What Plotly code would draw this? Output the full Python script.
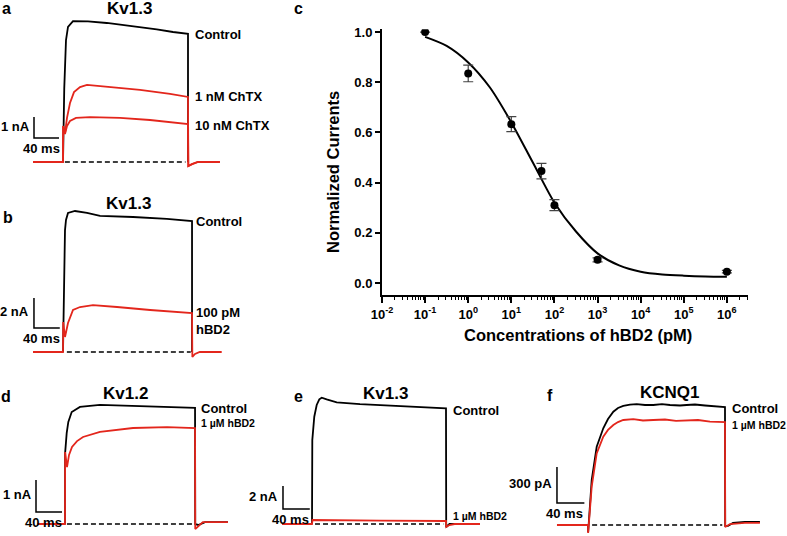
import plotly.graph_objects as go

W, H = 787, 536
FONT = "Liberation Sans, Arial, Helvetica, sans-serif"
RED = "#e3261c"
BLACK = "#000000"

# ---------------- Panel a : Kv1.3 + ChTX  (time ms, current nA) ----------------
a_ctrl_t = [0, 2, 4.8, 8, 16, 40, 70, 100, 123, 150, 176, 200, 200]
a_ctrl_i = [0, 3.5, 5.81, 6.43, 6.71, 6.70, 6.62, 6.52, 6.43, 6.32, 6.19, 6.10, 0]
a_chtx1_t = [-48, 0, 0.3, 3.2, 6.4, 11.2, 17.6, 27.2, 38.4, 75.2, 123.2, 171.2, 200, 200.5, 206.4, 216, 251]
a_chtx1_i = [0, 0, 1.71, 1.38, 2.10, 2.81, 3.33, 3.57, 3.67, 3.57, 3.43, 3.24, 3.10, -0.19, -0.10, 0, 0]
a_chtx10_t = [-48, 0, 0.3, 3.2, 6.4, 11.2, 20.8, 43.2, 91.2, 139.2, 200, 200.5, 206.4, 216, 251]
a_chtx10_i = [0, 0, 1.71, 1.33, 1.71, 1.95, 2.10, 2.14, 2.10, 2.00, 1.81, -0.19, -0.10, 0, 0]

# ---------------- Panel b : Kv1.3 + 100 pM hBD2 (ms, nA) ----------------
b_ctrl_t = [0, 1.5, 3.1, 4.65, 7.75, 18.6, 37.2, 57.4, 108.5, 161, 200, 200]
b_ctrl_i = [0, 5.0, 8.13, 8.8, 9.27, 9.4, 9.27, 9.07, 9.0, 8.87, 8.73, 0]
b_hbd_t = [-46.5, 0, 0.3, 3.1, 7.75, 15.5, 26.4, 46.5, 83.7, 135, 200, 200.5, 204.6, 212, 246]
b_hbd_i = [0, 0, 2.0, 1.0, 1.93, 2.8, 3.0, 3.13, 3.0, 2.8, 2.6, -0.33, -0.13, 0, 0]

# ---------------- Panel c : dose-response ----------------
c_conc_pM = [0.1, 1, 10, 50, 100, 1000, 1e6]
c_norm = [1.0, 0.835, 0.633, 0.446, 0.31, 0.092, 0.045]
c_sem = [0, 0.033, 0.03, 0.031, 0.022, 0.008, 0.005]
c_fit_conc = [0.1, 0.316, 1, 3.16, 10, 31.6, 100, 316, 1000, 3162, 1e4, 31623, 1e5, 316228, 1e6]
c_fit_norm = [0.981, 0.945, 0.879, 0.78, 0.64, 0.48, 0.32, 0.205, 0.118, 0.07, 0.045, 0.034, 0.029, 0.026, 0.025]
c_tick_vals = [0.01, 0.1, 1, 10, 100, 1000, 1e4, 1e5, 1e6]
c_tick_text = ["-2", "-1", "0", "1", "2", "3", "4", "5", "6"]
c_ytick_vals = [0.0, 0.2, 0.4, 0.6, 0.8, 1.0]

# ---------------- Panel d : Kv1.2 (ms, nA) ----------------
d_ctrl_t = [0, 0.2, 2.6, 5.1, 10.3, 23, 53.8, 104.6, 157, 200, 200.3, 205, 215.4, 250.7]
d_ctrl_i = [0, 2.22, 2.84, 3.19, 3.5, 3.66, 3.72, 3.69, 3.66, 3.63, 0, -0.03, 0.06, 0.06]
d_hbd_t = [-43, 0, 0.2, 3.1, 6.2, 10.8, 18.5, 27.7, 53.8, 104.6, 157, 200, 200.3, 205, 212, 250.7]
d_hbd_i = [0, 0, 2.25, 1.78, 2.16, 2.41, 2.59, 2.72, 2.88, 3.0, 3.03, 3.0, -0.16, -0.06, 0.06, 0.06]

# ---------------- Panel e : Kv1.3 + 1 uM hBD2 (ms, nA) ----------------
e_ctrl_t = [0, 0.45, 3.4, 7.0, 10.9, 14.5, 21.9, 36.9, 71.6, 121.3, 171.2, 200, 200.3, 205.2, 250.7]
e_ctrl_i = [0, 7.3, 9.33, 10.35, 10.84, 10.98, 10.84, 10.58, 10.43, 10.29, 10.15, 10.06, -0.26, 0, 0]
e_hbd_t = [-44.8, 0, 0.75, 4.5, 101.5, 200, 200.3, 205, 213, 250.7]
e_hbd_i = [0, 0, 0.35, 0.35, 0.3, 0.26, -0.26, -0.09, 0, 0]

# ---------------- Panel f : KCNQ1 (ms, pA) ----------------
f_ctrl_t = [0, 0.2, 5.4, 12.7, 22.3, 29.2, 37, 43.8, 51.5, 61.3, 71.1, 83.2, 95.3, 108, 119.7, 134.3,
            144, 156.2, 170.8, 185.4, 197.5, 200, 200.3, 204.4, 211.7, 229, 251]
f_ctrl_i = [0, -60, 375, 652, 806, 883, 944, 975, 992, 1004, 1008, 1000, 1000, 1008, 1000, 996,
            1000, 1004, 996, 992, 986, 983, -8, -8, 17, 25, 25]
f_hbd_t = [-45.3, 0, 0.2, 5.4, 12.7, 22.3, 29.2, 37, 43.8, 51.5, 66.1, 80.3, 95.3, 112.4, 128.5,
           144, 160.6, 178.1, 197.5, 200, 200.3, 207.3, 229, 251]
f_hbd_i = [0, 0, -67, 319, 597, 736, 792, 833, 858, 875, 883, 871, 875, 879, 867,
           869, 875, 862, 861, 858, -17, 8, 17, 17]

# scale bars: (corner time, corner current, time size, current size, current label)
bars = {
    "a": (-46.4, 1.14, 40, 1, "1 nA"),
    "b": (-45.0, 1.6, 40, 2, "2 nA"),
    "d": (-44.6, 0.375, 40, 1, "1 nA"),
    "e": (-43.3, 1.3, 40, 2, "2 nA"),
    "f": (-45.3, 183, 40, 300, "300 pA"),
}

fig = go.Figure()


def axes_for(box, t0px, ms_per_px, base_py, px_per_unit):
    x0, x1, y0, y1 = box
    xa = dict(visible=False, fixedrange=True, domain=[x0 / W, x1 / W],
              range=[(x0 - t0px) * ms_per_px, (x1 - t0px) * ms_per_px])
    ya = dict(visible=False, fixedrange=True, domain=[1 - y1 / H, 1 - y0 / H],
              range=[(base_py - y1) / px_per_unit, (base_py - y0) / px_per_unit])
    return xa, ya


panels = {
    "a": ("x", "y", axes_for((0, 262, 0, 172), 63, 1.6, 162, 21)),
    "b": ("x2", "y2", axes_for((0, 262, 178, 362), 63, 1.55, 352, 15)),
    "d": ("x4", "y4", axes_for((0, 262, 378, 536), 65, 1.538, 524, 32)),
    "e": ("x5", "y5", axes_for((262, 520, 378, 536), 312, 1.4925, 524, 11.5)),
    "f": ("x6", "y6", axes_for((520, 787, 378, 536), 588, 1.46, 525, 1 / 8.333)),
}


def line(p, t, i, color, width=1.8, dash=None):
    xr, yr, _ = panels[p]
    fig.add_trace(go.Scatter(x=t, y=i, mode="lines", xaxis=xr, yaxis=yr, hoverinfo="skip",
                             line=dict(color=color, width=width, dash=dash)))


def zero_line(p, t_start, t_end):
    line(p, [t_start, t_end], [0, 0], BLACK, 1.6, "5px,3px")


def scale_bar(p):
    t, i, dt, di, lab = bars[p]
    line(p, [t, t, t + dt], [i + di, i, i], BLACK, 1.5)


# dashed zero lines
zero_line("a", 3, 196)
zero_line("b", 6, 198)
zero_line("d", 3, 198)
zero_line("e", 4.5, 196)
zero_line("f", 6, 196)

# traces
line("a", a_ctrl_t, a_ctrl_i, BLACK)
line("a", a_chtx1_t, a_chtx1_i, RED)
line("a", a_chtx10_t, a_chtx10_i, RED)
line("b", b_ctrl_t, b_ctrl_i, BLACK)
line("b", b_hbd_t, b_hbd_i, RED)
line("d", d_ctrl_t, d_ctrl_i, BLACK)
line("d", d_hbd_t, d_hbd_i, RED)
line("e", e_ctrl_t, e_ctrl_i, BLACK)
line("e", e_hbd_t, e_hbd_i, RED)
line("f", f_ctrl_t, f_ctrl_i, BLACK)
line("f", f_hbd_t, f_hbd_i, RED)

for p in bars:
    scale_bar(p)

# panel c
fig.add_trace(go.Scatter(x=c_fit_conc, y=c_fit_norm, mode="lines", xaxis="x3", yaxis="y3",
                         line=dict(color=BLACK, width=2, shape="spline", smoothing=0.8), hoverinfo="skip"))
fig.add_trace(go.Scatter(x=c_conc_pM, y=c_norm, mode="markers", xaxis="x3", yaxis="y3",
                         marker=dict(color=BLACK, size=8),
                         error_y=dict(type="data", array=c_sem, visible=True, color="#444444",
                                      thickness=1.2, width=5)))

layout_axes = {}
for p, (xr, yr, (xa, ya)) in panels.items():
    xkey = "xaxis" + xr[1:]
    ykey = "yaxis" + yr[1:]
    xa["anchor"] = yr
    ya["anchor"] = xr
    layout_axes[xkey] = xa
    layout_axes[ykey] = ya

BOLD13 = dict(size=13, family=FONT, color=BLACK, weight="bold")
minor_vals = [k * 10 ** n for n in range(-2, 7) for k in range(2, 10) if k * 10 ** n < 10 ** 6.49]
layout_axes["xaxis3"] = dict(
    type="log", domain=[382 / W, 748 / W], range=[-2, 6.49], anchor="y3", fixedrange=True,
    showline=True, linecolor=BLACK, linewidth=2, ticks="outside", ticklen=6, tickwidth=1.5,
    tickcolor=BLACK, tickvals=c_tick_vals,
    ticktext=["10<sup>%s</sup>" % s for s in c_tick_text],
    tickfont=BOLD13, showgrid=False, zeroline=False,
    minor=dict(tickmode="array", tickvals=minor_vals, ticks="outside", ticklen=3, tickwidth=1,
               tickcolor=BLACK, showgrid=False),
)
layout_axes["yaxis3"] = dict(
    domain=[1 - 295 / H, 1 - 29.3 / H], range=[-0.048, 1.011], anchor="x3", fixedrange=True,
    showline=True, linecolor=BLACK, linewidth=2, ticks="outside", ticklen=5, tickwidth=1.5,
    tickcolor=BLACK, tickvals=c_ytick_vals, tickformat=".1f",
    tickfont=BOLD13, showgrid=False, zeroline=False,
)

ann = []


def txt(p, t, i, s, size=13, xanchor="left"):
    xr, yr, _ = panels[p]
    ann.append(dict(x=t, y=i, xref=xr, yref=yr, text=s, showarrow=False,
                    xanchor=xanchor, yanchor="middle",
                    font=dict(size=size, family=FONT, color=BLACK, weight="bold")))


def paper_txt(px, py, s, size, angle=0):
    ann.append(dict(x=px / W, y=1 - py / H, xref="paper", yref="paper", text=s,
                    showarrow=False, xanchor="center", yanchor="middle", textangle=angle,
                    font=dict(size=size, family=FONT, color=BLACK, weight="bold")))


# panel titles
txt("a", 107, 7.29, "Kv1.3", 17, "center")
txt("b", 100.75, 9.93, "Kv1.3", 17, "center")
txt("d", 92.3, 4.09, "Kv1.2", 17, "center")
txt("e", 109, 11.39, "Kv1.3", 17, "center")
txt("f", 119.7, 1108, "KCNQ1", 17, "center")

# trace labels
txt("a", 208, 6.05, "Control")
txt("a", 208, 3.1, "1 nM ChTX")
txt("a", 208, 1.76, "10 nM ChTX")
txt("b", 203, 8.73, "Control")
ann.append(dict(x=203, y=2.07, xref="x2", yref="y2", text="100 pM<br>hBD2", showarrow=False,
                xanchor="left", yanchor="middle", align="left",
                font=dict(size=13, family=FONT, color=BLACK, weight="bold")))
txt("d", 206, 3.6, "Control")
txt("d", 206, 3.16, "1 µM hBD2", 10.5)
txt("e", 207, 9.91, "Control")
txt("e", 207, 0.7, "1 µM hBD2", 10.5)
txt("f", 207, 975, "Control")
txt("f", 207, 833, "1 µM hBD2", 10.5)

# scale bar labels
for p, (t, i, dt, di, lab) in bars.items():
    xr, yr, (xa, ya) = panels[p]
    upp = (ya["range"][1] - ya["range"][0]) / ((ya["domain"][1] - ya["domain"][0]) * H)
    mpp = (xa["range"][1] - xa["range"][0]) / ((xa["domain"][1] - xa["domain"][0]) * W)
    txt(p, t - 2.5 * mpp, i + di * 0.55, lab, 13, "right")
    txt(p, t + dt * 0.28, i - 10 * upp, "40 ms", 13, "center")

# panel letters
paper_txt(6, 8, "a", 16)
paper_txt(8, 217, "b", 16)
paper_txt(298, 8, "c", 16)
paper_txt(6, 397, "d", 16)
paper_txt(298, 397, "e", 16)
paper_txt(550, 395, "f", 16)

# axis titles for panel c
paper_txt(333, 172, "Normalized Currents", 16.5, -90)
paper_txt(578, 335, "Concentrations of hBD2 (pM)", 16.5)

fig.update_layout(
    width=W, height=H, margin=dict(l=0, r=0, t=0, b=0, autoexpand=False),
    paper_bgcolor="white", plot_bgcolor="rgba(0,0,0,0)", showlegend=False,
    font=dict(family=FONT, color=BLACK), annotations=ann, **layout_axes,
)

fig.write_html("out.html", config={"responsive": False, "displayModeBar": False},
               post_script="document.body.style.margin='0';document.body.style.overflow='hidden';")
